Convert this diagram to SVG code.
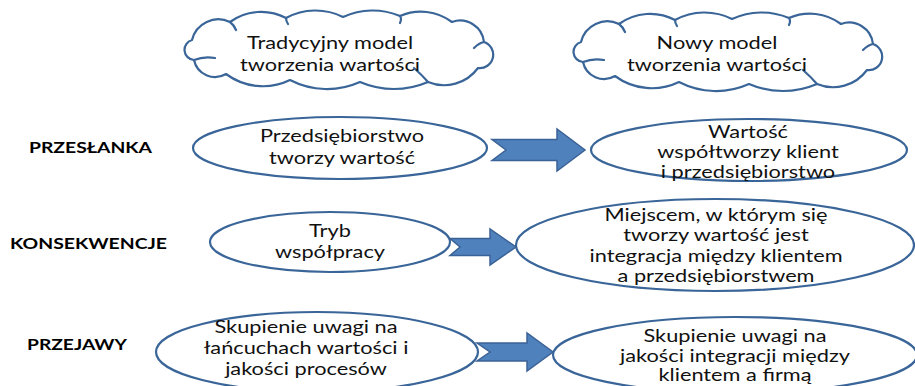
<svg xmlns="http://www.w3.org/2000/svg" xmlns:xlink="http://www.w3.org/1999/xlink" width="915" height="386" viewBox="0 0 915 386">
<style>
.bg{fill:#ffffff}
.cloud{fill:#ffffff;stroke:#3A6598;stroke-width:2.2;stroke-linejoin:round}
.inner{fill:none;stroke:#3A6598;stroke-width:2.2;stroke-linecap:round}
.ell{fill:#ffffff;stroke:#3A6598;stroke-width:2.2}
.arrow{fill:#4F81BD;stroke:#3B6296;stroke-width:1.5;stroke-linejoin:miter}
.t{font-family:Lato,"Open Sans","DejaVu Sans",sans-serif;font-size:17px;fill:#111;text-anchor:middle}
.lbl{font-family:Lato,"Liberation Sans",sans-serif;font-weight:700;font-size:15px;fill:#000}
</style>
<defs>
<path id="cloudShape" d="M 14 30 A 27 27 0 0 1 52 12 A 53 53 0 0 1 108 8 A 61.5 61.5 0 0 1 165 7 A 70.7 70.7 0 0 1 222 6 A 52 52 0 0 1 274 12 A 24 24 0 0 1 306 32 A 13.4 13.4 0 0 1 300 58 A 42 42 0 0 1 250 72 A 86 86 0 0 1 182 72 A 80.6 80.6 0 0 1 112 70 A 62 62 0 0 1 48 64 A 21.5 21.5 0 0 1 16 50 A 10.2 10.2 0 0 1 14 30 Z"/>
<path id="cloudInner" d="M 296 38 Q 301 33 306 32 M 236 58 Q 244 65 250 72 M 16 50 Q 26 46 37 48 M 52 12 Q 56 15 58 20 M 108 8 Q 108 11 110 14 M 222 6 Q 224 9 222 13"/>
</defs>
<rect class="bg" x="0" y="0" width="915" height="386"/>

<g id="cloud-tradycyjny">
<use xlink:href="#cloudShape" class="cloud" transform="translate(178 10)"/>
<use xlink:href="#cloudInner" class="inner" transform="translate(178 10)"/>
<g transform="translate(330 0) scale(1.28 1)">
<text class="t" x="0" y="49">Tradycyjny model</text>
<text class="t" x="0" y="71">tworzenia wartości</text>
</g>
</g>

<g id="cloud-nowy">
<use xlink:href="#cloudShape" class="cloud" transform="translate(567 12)"/>
<use xlink:href="#cloudInner" class="inner" transform="translate(567 12)"/>
<g transform="translate(717 0) scale(1.28 1)">
<text class="t" x="0" y="49">Nowy model</text>
<text class="t" x="0" y="71">tworzenia wartości</text>
</g>
</g>

<g id="label-przeslanka">
<text class="lbl" x="29" y="153" textLength="123" lengthAdjust="spacingAndGlyphs">PRZESŁANKA</text>
</g>
<g id="label-konsekwencje">
<text class="lbl" x="10" y="249" textLength="157" lengthAdjust="spacingAndGlyphs">KONSEKWENCJE</text>
</g>
<g id="label-przejawy">
<text class="lbl" x="27" y="350" textLength="100" lengthAdjust="spacingAndGlyphs">PRZEJAWY</text>
</g>

<g id="node-przedsiebiorstwo">
<ellipse class="ell" cx="340" cy="148" rx="147" ry="31"/>
<g transform="translate(342 0) scale(1.28 1)">
<text class="t" x="0" y="142">Przedsiębiorstwo</text>
<text class="t" x="0" y="164">tworzy wartość</text>
</g>
</g>

<g id="node-wartosc">
<ellipse class="ell" cx="749" cy="150" rx="158" ry="31"/>
<g transform="translate(748 0) scale(1.28 1)">
<text class="t" x="0" y="138">Wartość</text>
<text class="t" x="0" y="158">współtworzy klient</text>
<text class="t" x="0" y="178">i przedsiębiorstwo</text>
</g>
</g>

<g id="node-tryb">
<ellipse class="ell" cx="330" cy="242" rx="120" ry="30"/>
<g transform="translate(330 0) scale(1.28 1)">
<text class="t" x="0" y="237">Tryb</text>
<text class="t" x="0" y="258">współpracy</text>
</g>
</g>

<g id="node-miejscem">
<ellipse class="ell" cx="715" cy="245" rx="199" ry="46"/>
<g transform="translate(716 0) scale(1.28 1)">
<text class="t" x="0" y="221">Miejscem, w którym się</text>
<text class="t" x="0" y="241.5">tworzy wartość jest</text>
<text class="t" x="0" y="262">integracja między klientem</text>
<text class="t" x="0" y="282.5">a przedsiębiorstwem</text>
</g>
</g>

<g id="node-skupienie-lancuchy">
<ellipse class="ell" cx="317" cy="352" rx="161" ry="40"/>
<g transform="translate(306 0) scale(1.28 1)">
<text class="t" x="0" y="333">Skupienie uwagi na</text>
<text class="t" x="0" y="354">łańcuchach wartości i</text>
<text class="t" x="0" y="375">jakości procesów</text>
</g>
</g>

<g id="node-skupienie-integracja">
<ellipse class="ell" cx="735" cy="355" rx="182" ry="38"/>
<g transform="translate(735 0) scale(1.28 1)">
<text class="t" x="0" y="342">Skupienie uwagi na</text>
<text class="t" x="0" y="362">jakości integracji między</text>
<text class="t" x="0" y="381">klientem a firmą</text>
</g>
</g>

<g id="connectors">
<polygon class="arrow" points="492,139.5 557,139.5 557,129 585,150 557,171 557,160.5 492,160.5 506,150"/>
<polygon class="arrow" points="450,238.5 490,238.5 490,229 516,247 490,265 490,255.5 450,255.5 460,247"/>
<polygon class="arrow" points="477,343 527,343 527,333 553,352 527,371 527,361 477,361 490,352"/>
</g>
</svg>
